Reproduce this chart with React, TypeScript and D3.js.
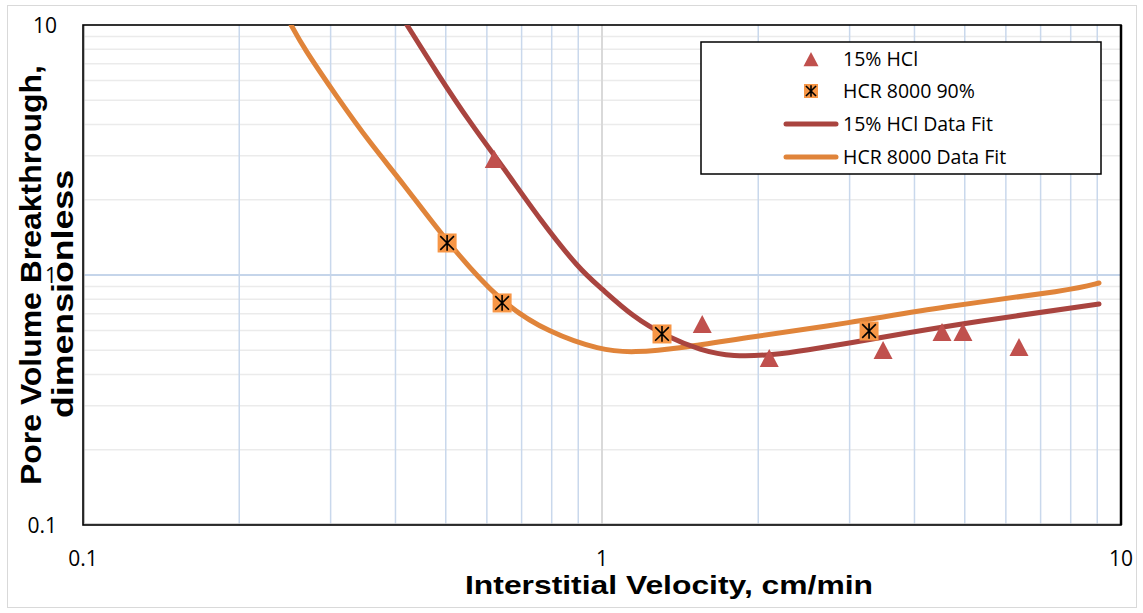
import React from "react";
import * as d3 from "d3";

// ---- data ----
const hclX = [0.62, 1.56, 2.1, 3.48, 4.52, 4.96, 6.36];
const hclY = [2.91, 0.637, 0.466, 0.501, 0.592, 0.592, 0.515];

const hcrX = [0.503, 0.642, 1.305, 3.27];
const hcrY = [1.343, 0.773, 0.581, 0.597];

const hclFitX = [0.421, 0.481, 0.557, 0.645, 0.76, 0.907, 0.991, 1.147, 1.335, 1.545, 1.788, 2.136, 2.483, 3.005, 3.87, 5.19, 9.07];
const hclFitY = [10, 6.43, 4.06, 2.7, 1.66, 1.047, 0.895, 0.679, 0.565, 0.501, 0.47, 0.479, 0.501, 0.535, 0.586, 0.649, 0.766];

const hcrFitX = [0.2518, 0.2654, 0.3086, 0.3573, 0.4135, 0.4939, 0.636, 0.794, 0.991, 1.147, 1.432, 1.929, 3.005, 4.48, 8.08, 9.07];
const hcrFitY = [10, 8.17, 5.15, 3.37, 2.33, 1.419, 0.773, 0.586, 0.501, 0.488, 0.511, 0.565, 0.643, 0.745, 0.871, 0.929];

const xTicks = [0.1, 1, 10];
const yTicks = [0.1, 1, 10];
const xTickLabels = ["0.1", "1", "10"];
const yTickLabels = ["0.1", "1", "10"];
const minorMults = [2, 3, 4, 5, 6, 7, 8, 9];
const decades = [0.1, 1];

const legendLabels = ["15% HCl", "HCR 8000 90%", "15% HCl Data Fit", "HCR 8000 Data Fit"];
const xTitle = "Interstitial Velocity, cm/min";
const yTitle1 = "Pore Volume Breakthrough,";
const yTitle2 = "dimensionless";

// ---- style ----
const W = 1143, H = 613;
const L = 83, R = 1121, T = 25, B = 525;
const redLine = "#a9443f";
const orangeLine = "#e0843a";
const triFill = "#c0504d";
const sqFill = "#f79646";
const tickFont = "'Open Sans', 'Noto Sans', sans-serif";
const titleFont = "'Liberation Sans', Arial, sans-serif";

function Tri({ cx, cy, s }: { cx: number; cy: number; s: number }) {
  const h = s * 0.95;
  return (
    <path
      d={`M${cx},${cy - h / 2} L${cx + s / 2},${cy + h / 2} L${cx - s / 2},${cy + h / 2} Z`}
      fill={triFill}
    />
  );
}

function Star({ cx, cy, s }: { cx: number; cy: number; s: number }) {
  const a = s * 0.36;
  return (
    <g>
      <rect x={cx - s / 2} y={cy - s / 2} width={s} height={s} fill={sqFill} />
      <path
        d={`M${cx - a},${cy - a} L${cx + a},${cy + a} M${cx - a},${cy + a} L${cx + a},${cy - a} M${cx},${cy - a * 1.15} L${cx},${cy + a * 1.15}`}
        stroke="#000"
        strokeWidth={1.6}
      />
    </g>
  );
}

export default function App() {
  const x = d3.scaleLog().domain([0.1, 10]).range([L, R]);
  const y = d3.scaleLog().domain([0.1, 10]).range([B, T]);

  const line = d3
    .line<[number, number]>()
    .x((d) => x(d[0]))
    .y((d) => y(d[1]))
    .curve(d3.curveBasis);

  const hclFit: [number, number][] = hclFitX.map((v, i) => [v, hclFitY[i]]);
  const hcrFit: [number, number][] = hcrFitX.map((v, i) => [v, hcrFitY[i]]);

  const minors: number[] = [];
  decades.forEach((d) => minorMults.forEach((m) => minors.push(d * m)));

  const legX = 701, legY = 42, legW = 400, legH = 132;
  const rowYs = [59, 91, 124, 157];

  return (
    <svg
      width={W}
      height={H}
      style={{ position: "absolute", left: 0, top: 0, background: "#fff" }}
    >
      <rect x={7.5} y={5.5} width={1129} height={602} fill="#fff" stroke="#d9d9d9" strokeWidth={1} />
      <defs>
        <clipPath id="plotclip">
          <rect x={L} y={T} width={R - L} height={B - T} />
        </clipPath>
      </defs>
      {/* horizontal minor grid */}
      {minors.map((v) => (
        <line key={"hm" + v} x1={L} x2={R} y1={y(v)} y2={y(v)} stroke="#ebebeb" strokeWidth={1.5} />
      ))}
      {/* vertical minor grid */}
      {minors.map((v) => (
        <line key={"vm" + v} x1={x(v)} x2={x(v)} y1={T} y2={B} stroke="#c9d8ec" strokeWidth={1.5} />
      ))}
      {/* major grid */}
      <line x1={L} x2={R} y1={y(1)} y2={y(1)} stroke="#c5d5ea" strokeWidth={2} />
      <line x1={x(1)} x2={x(1)} y1={T} y2={B} stroke="#d9d9d9" strokeWidth={2} />
      {/* axes / frame */}
      <line x1={L + 1} x2={L + 1} y1={T} y2={B} stroke="#a6a6a6" strokeWidth={1.5} />
      <line x1={L} x2={R} y1={B - 1} y2={B - 1} stroke="#bfbfbf" strokeWidth={1.5} />
      <rect x={L} y={T} width={R - L} height={B - T} fill="none" stroke="#000" strokeWidth={1.6} />
      <line x1={R} x2={R} y1={T} y2={B} stroke="#000" strokeWidth={2.5} />

      {/* fits */}
      <g clipPath="url(#plotclip)">
        <path d={line(hcrFit) || ""} fill="none" stroke={orangeLine} strokeWidth={5} strokeLinecap="round" strokeLinejoin="round" />
        <path d={line(hclFit) || ""} fill="none" stroke={redLine} strokeWidth={5} strokeLinecap="round" strokeLinejoin="round" />
      </g>

      {/* markers */}
      {hclX.map((v, i) => (
        <Tri key={"t" + i} cx={x(v)} cy={y(hclY[i])} s={19} />
      ))}
      {hcrX.map((v, i) => (
        <Star key={"s" + i} cx={x(v)} cy={y(hcrY[i])} s={19} />
      ))}

      {/* tick labels */}
      {xTicks.map((v, i) => (
        <text key={"xt" + i} x={x(v)} y={566} textAnchor="middle" fontFamily={tickFont} fontSize={21} fill="#000">
          {xTickLabels[i]}
        </text>
      ))}
      {yTicks.map((v, i) => (
        <text key={"yt" + i} x={57} y={y(v) + 8} textAnchor="end" fontFamily={tickFont} fontSize={21} fill="#000">
          {yTickLabels[i]}
        </text>
      ))}

      {/* axis titles */}
      <text x={669} y={594} textAnchor="middle" fontFamily={titleFont} fontWeight="bold" fontSize={26} textLength={408} lengthAdjust="spacingAndGlyphs">
        {xTitle}
      </text>
      <text transform="translate(41,275) rotate(-90)" textAnchor="middle" fontFamily={titleFont} fontWeight="bold" fontSize={30} textLength={420} lengthAdjust="spacingAndGlyphs">
        {yTitle1}
      </text>
      <text transform="translate(73,294) rotate(-90)" textAnchor="middle" fontFamily={titleFont} fontWeight="bold" fontSize={30} textLength={248} lengthAdjust="spacingAndGlyphs">
        {yTitle2}
      </text>

      {/* legend */}
      <rect x={legX} y={legY} width={legW} height={legH} fill="#fff" stroke="#000" strokeWidth={1.5} />
      <Tri cx={811} cy={rowYs[0]} s={15} />
      <Star cx={811} cy={rowYs[1]} s={14} />
      <line x1={786} x2={836} y1={rowYs[2]} y2={rowYs[2]} stroke={redLine} strokeWidth={5} strokeLinecap="round" />
      <line x1={786} x2={836} y1={rowYs[3]} y2={rowYs[3]} stroke={orangeLine} strokeWidth={5} strokeLinecap="round" />
      {legendLabels.map((t, i) => (
        <text key={"lg" + i} x={843} y={rowYs[i] + 7} fontFamily={tickFont} fontSize={19.5} fill="#000">
          {t}
        </text>
      ))}
    </svg>
  );
}
